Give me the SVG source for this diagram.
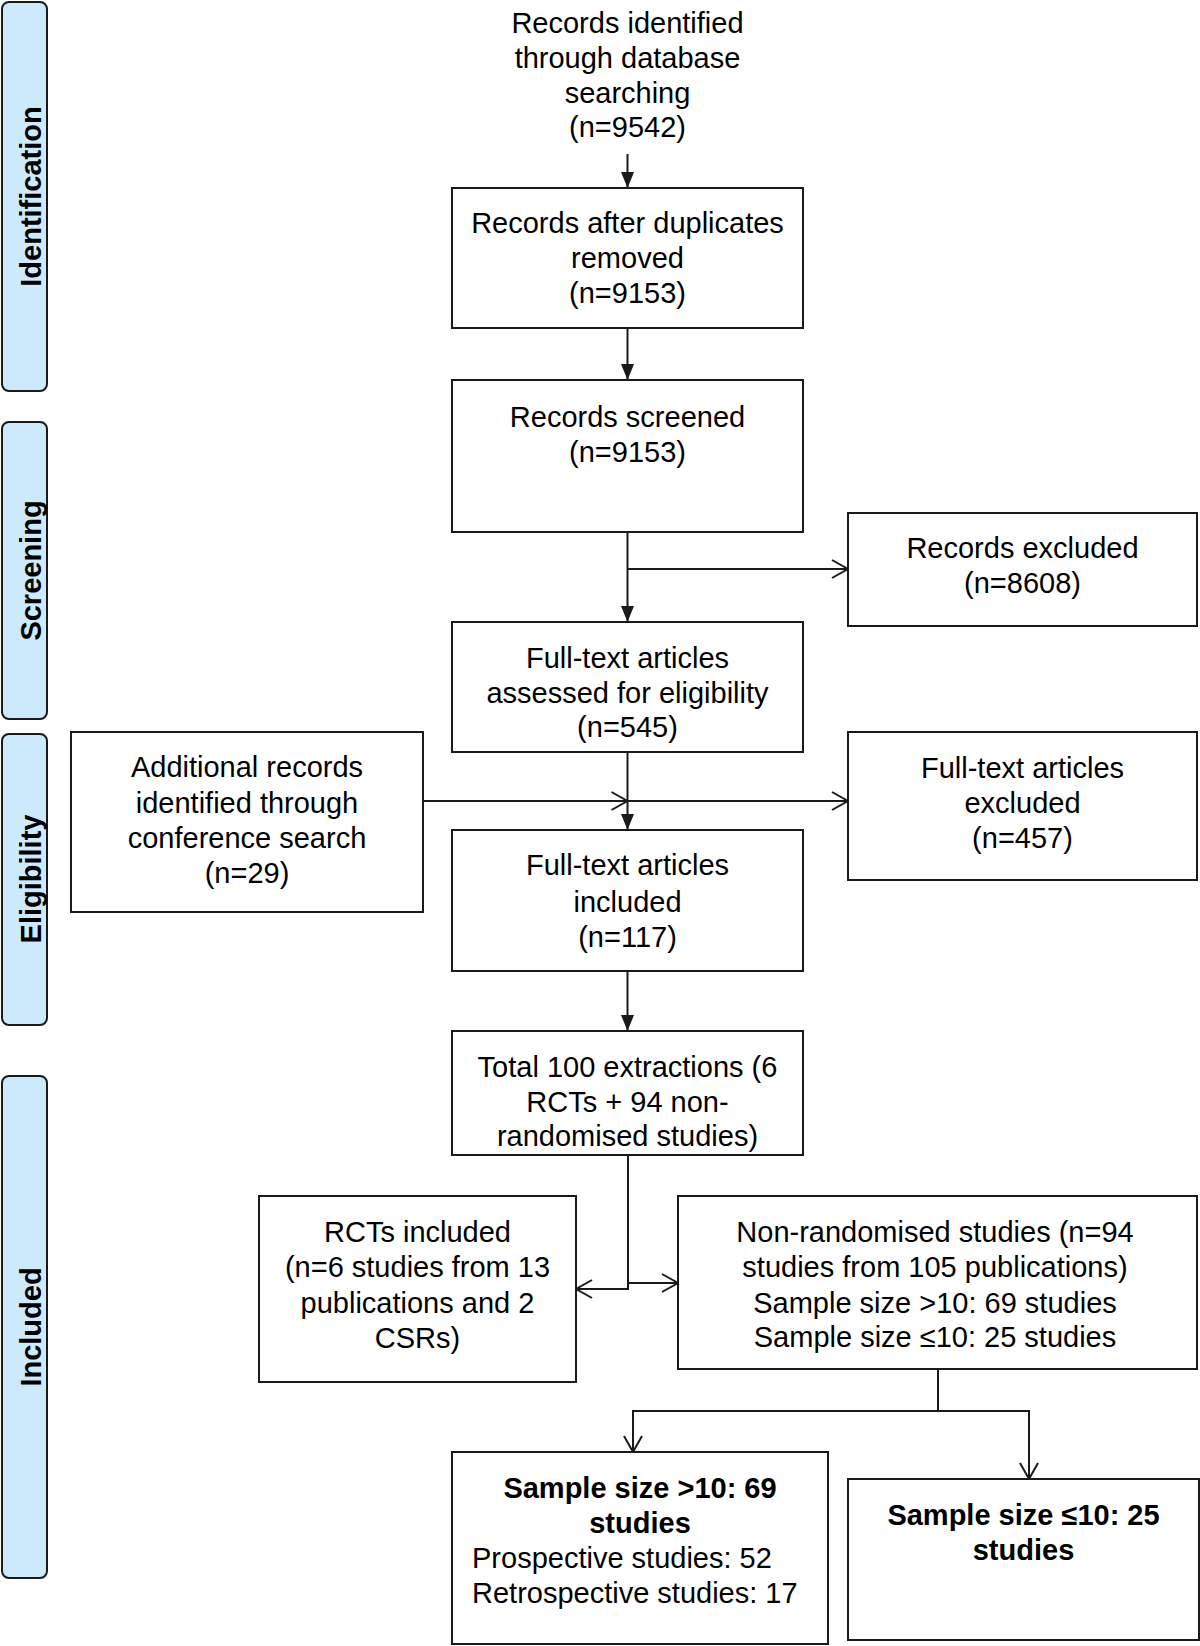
<svg xmlns="http://www.w3.org/2000/svg" width="1200" height="1646" viewBox="0 0 1200 1646">
<style>
  .bar { fill: #cdeafc; stroke: #1a1a1a; stroke-width: 2; }
  .box { fill: #ffffff; stroke: #1a1a1a; stroke-width: 2; }
  .lbl { font-family: "Liberation Sans", Arial, sans-serif; font-size: 29px; font-weight: bold; fill: #000; text-anchor: middle; }
  .t { font-family: "Liberation Sans", Arial, sans-serif; font-size: 29px; fill: #000; text-anchor: middle; }
  .tb { font-family: "Liberation Sans", Arial, sans-serif; font-size: 29px; font-weight: bold; fill: #000; text-anchor: middle; }
  .tl { font-family: "Liberation Sans", Arial, sans-serif; font-size: 29px; fill: #000; text-anchor: start; }
  .ln { fill: none; stroke: #1a1a1a; stroke-width: 2; }
</style>
<defs>
  <marker id="fill" markerUnits="userSpaceOnUse" markerWidth="18" markerHeight="14" refX="16" refY="7" orient="auto">
    <path d="M0,0.5 L16,7 L0,13.5 z" fill="#1a1a1a"/>
  </marker>
  <marker id="open" markerUnits="userSpaceOnUse" markerWidth="20" markerHeight="22" refX="17" refY="11" orient="auto">
    <path d="M1,2 L17,11 L1,20" fill="none" stroke="#1a1a1a" stroke-width="2"/>
  </marker>
</defs>
<rect width="1200" height="1646" fill="#ffffff"/>

<!-- Phase bars -->
<g id="phase-identification">
  <rect class="bar" x="2" y="2" width="45" height="389" rx="7"/>
  <text class="lbl" transform="translate(41,196.5) rotate(-90)">Identification</text>
</g>
<g id="phase-screening">
  <rect class="bar" x="2" y="422" width="45" height="297" rx="7"/>
  <text class="lbl" transform="translate(41,570.5) rotate(-90)">Screening</text>
</g>
<g id="phase-eligibility">
  <rect class="bar" x="2" y="734" width="45" height="291" rx="7"/>
  <text class="lbl" transform="translate(41,879) rotate(-90)">Eligibility</text>
</g>
<g id="phase-included">
  <rect class="bar" x="2" y="1076" width="45" height="502" rx="7"/>
  <text class="lbl" transform="translate(41,1327) rotate(-90)">Included</text>
</g>

<!-- Connectors -->
<g id="connectors">
  <line class="ln" x1="627.5" y1="154" x2="627.5" y2="188" marker-end="url(#fill)"/>
  <line class="ln" x1="627.5" y1="328" x2="627.5" y2="380" marker-end="url(#fill)"/>
  <line class="ln" x1="627.5" y1="532" x2="627.5" y2="622" marker-end="url(#fill)"/>
  <line class="ln" x1="627.5" y1="569" x2="848" y2="569" marker-end="url(#open)"/>
  <line class="ln" x1="627.5" y1="752" x2="627.5" y2="830" marker-end="url(#fill)"/>
  <line class="ln" x1="423" y1="801" x2="627.5" y2="801" marker-end="url(#open)"/>
  <line class="ln" x1="627.5" y1="801" x2="848" y2="801" marker-end="url(#open)"/>
  <line class="ln" x1="627.5" y1="971" x2="627.5" y2="1031" marker-end="url(#fill)"/>
  <polyline class="ln" points="628,1155 628,1289 576,1289" marker-end="url(#open)"/>
  <line class="ln" x1="628" y1="1283" x2="678" y2="1283" marker-end="url(#open)"/>
  <line class="ln" x1="938" y1="1369" x2="938" y2="1411"/>
  <polyline class="ln" points="938,1411 633,1411 633,1452" marker-end="url(#open)"/>
  <polyline class="ln" points="938,1411 1029,1411 1029,1479" marker-end="url(#open)"/>
</g>

<!-- Nodes -->
<g id="node-db-search">
  <text class="t" x="627.5" y="33">Records identified</text>
  <text class="t" x="627.5" y="68">through database</text>
  <text class="t" x="627.5" y="103">searching</text>
  <text class="t" x="627.5" y="137">(n=9542)</text>
</g>
<g id="node-duplicates">
  <rect class="box" x="452" y="188" width="351" height="140"/>
  <text class="t" x="627.5" y="233">Records after duplicates</text>
  <text class="t" x="627.5" y="268">removed</text>
  <text class="t" x="627.5" y="303">(n=9153)</text>
</g>
<g id="node-screened">
  <rect class="box" x="452" y="380" width="351" height="152"/>
  <text class="t" x="627.5" y="427">Records screened</text>
  <text class="t" x="627.5" y="462">(n=9153)</text>
</g>
<g id="node-excluded">
  <rect class="box" x="848" y="513" width="349" height="113"/>
  <text class="t" x="1022.5" y="558">Records excluded</text>
  <text class="t" x="1022.5" y="593">(n=8608)</text>
</g>
<g id="node-assessed">
  <rect class="box" x="452" y="622" width="351" height="130"/>
  <text class="t" x="627.5" y="668">Full-text articles</text>
  <text class="t" x="627.5" y="703">assessed for eligibility</text>
  <text class="t" x="627.5" y="737">(n=545)</text>
</g>
<g id="node-additional">
  <rect class="box" x="71" y="732" width="352" height="180"/>
  <text class="t" x="247" y="777">Additional records</text>
  <text class="t" x="247" y="813">identified through</text>
  <text class="t" x="247" y="848">conference search</text>
  <text class="t" x="247" y="883">(n=29)</text>
</g>
<g id="node-ft-excluded">
  <rect class="box" x="848" y="732" width="349" height="148"/>
  <text class="t" x="1022.5" y="778">Full-text articles</text>
  <text class="t" x="1022.5" y="813">excluded</text>
  <text class="t" x="1022.5" y="848">(n=457)</text>
</g>
<g id="node-ft-included">
  <rect class="box" x="452" y="830" width="351" height="141"/>
  <text class="t" x="627.5" y="875">Full-text articles</text>
  <text class="t" x="627.5" y="912">included</text>
  <text class="t" x="627.5" y="947">(n=117)</text>
</g>
<g id="node-total">
  <rect class="box" x="452" y="1031" width="351" height="124"/>
  <text class="t" x="627.5" y="1077">Total 100 extractions (6</text>
  <text class="t" x="627.5" y="1112">RCTs + 94 non-</text>
  <text class="t" x="627.5" y="1146">randomised studies)</text>
</g>
<g id="node-rcts">
  <rect class="box" x="259" y="1196" width="317" height="186"/>
  <text class="t" x="417.5" y="1242">RCTs included</text>
  <text class="t" x="417.5" y="1277">(n=6 studies from 13</text>
  <text class="t" x="417.5" y="1313">publications and 2</text>
  <text class="t" x="417.5" y="1348">CSRs)</text>
</g>
<g id="node-nonrand">
  <rect class="box" x="678" y="1196" width="519" height="173"/>
  <text class="t" x="935" y="1242">Non-randomised studies (n=94</text>
  <text class="t" x="935" y="1277">studies from 105 publications)</text>
  <text class="t" x="935" y="1313">Sample size &gt;10: 69 studies</text>
  <text class="t" x="935" y="1347">Sample size ≤10: 25 studies</text>
</g>
<g id="node-large">
  <rect class="box" x="452" y="1452" width="376" height="192"/>
  <text class="tb" x="640" y="1498">Sample size &gt;10: 69</text>
  <text class="tb" x="640" y="1533">studies</text>
  <text class="tl" x="472" y="1568">Prospective studies: 52</text>
  <text class="tl" x="472" y="1603">Retrospective studies: 17</text>
</g>
<g id="node-small">
  <rect class="box" x="848" y="1479" width="351" height="161"/>
  <text class="tb" x="1023.5" y="1525">Sample size ≤10: 25</text>
  <text class="tb" x="1023.5" y="1560">studies</text>
</g>
</svg>
